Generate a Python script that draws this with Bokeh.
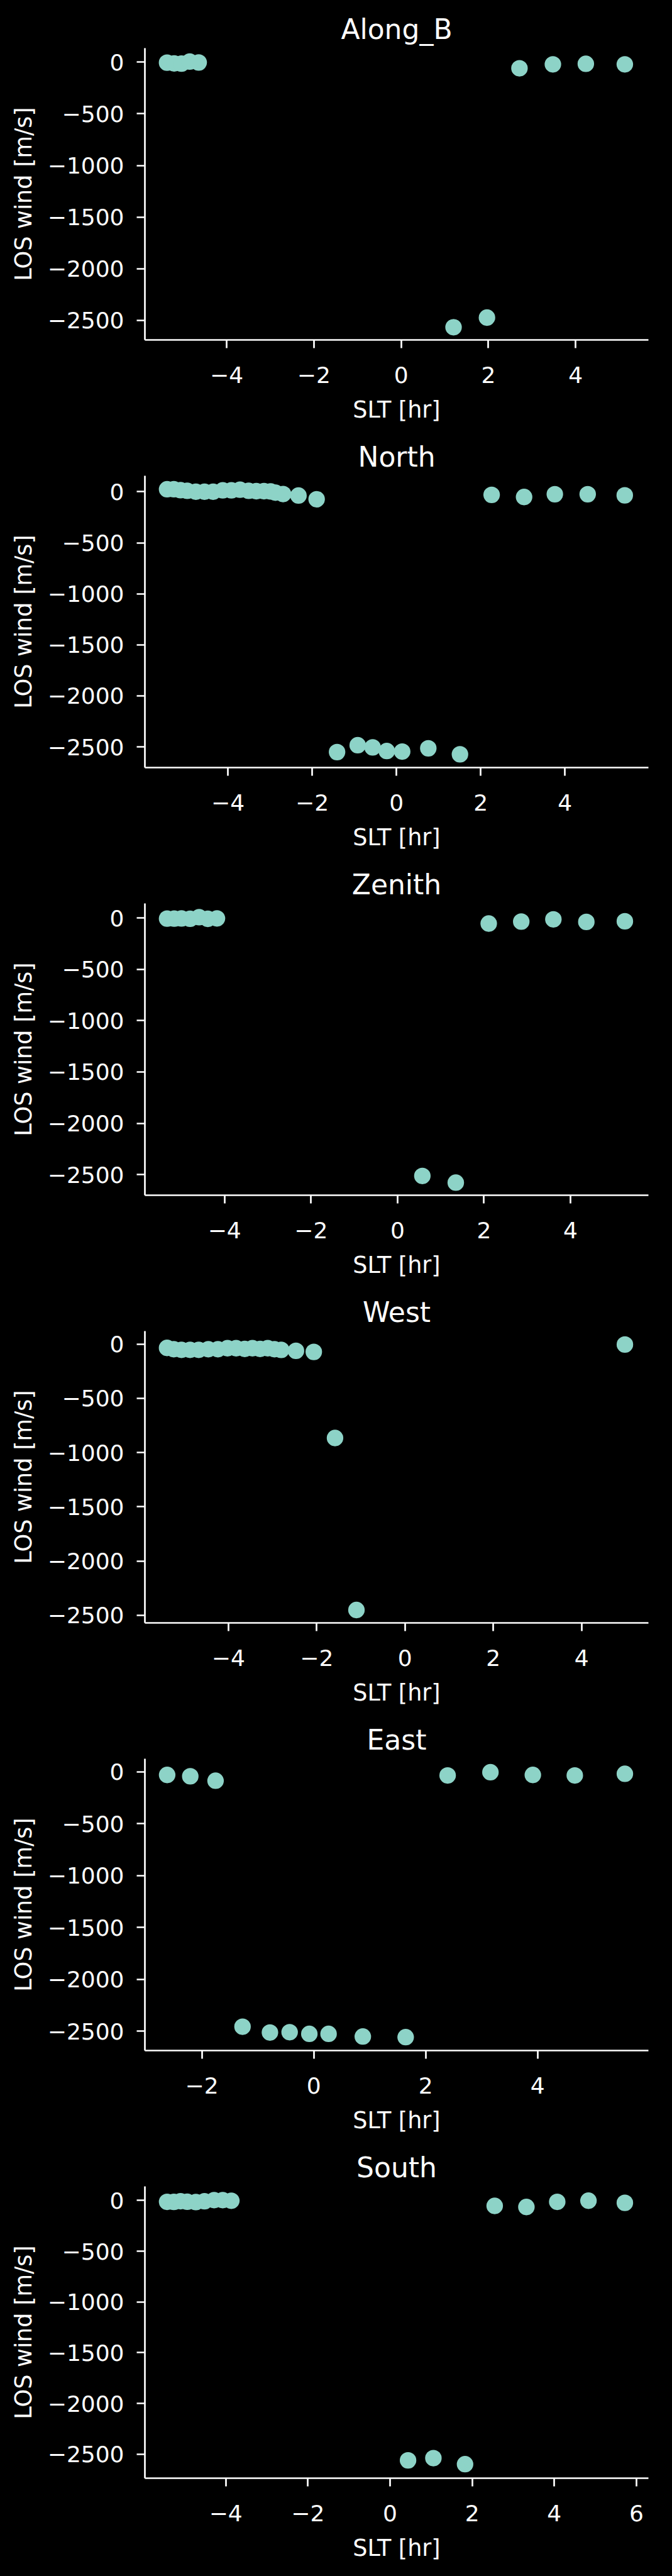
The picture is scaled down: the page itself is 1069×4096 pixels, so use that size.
from bokeh.plotting import figure
from bokeh.layouts import column
from bokeh.models import Range1d, FixedTicker
from bokeh.embed import file_html
from bokeh.resources import INLINE

# ---------------- data ----------------
titles = ["Along_B", "North", "Zenith", "West", "East", "South"]

along_b_slt = [-5.366, -5.203, -5.036, -4.847, -4.641, 1.201, 1.967, 2.712, 3.478, 4.233, 5.127]
along_b_wind = [-5, -12, -14, 6, -3, -2566, -2473, -59, -21, -16, -21]

north_slt = [-5.445, -5.285, -5.125, -4.967, -4.762, -4.557, -4.352, -4.124, -3.919, -3.714,
             -3.509, -3.327, -3.145, -2.987, -2.872, -2.691, -2.326, -1.895,
             -1.41, -0.92, -0.565, -0.23, 0.136, 0.756, 1.508,
             2.26, 3.03, 3.76, 4.54, 5.42]
north_wind = [25, 25, 16, 10, 1, 1, 1, 14, 14, 20,
              10, 6, 6, 3, -8, -22, -37, -73,
              -2551, -2484, -2505, -2541, -2546, -2514, -2573,
              -30, -51, -24, -24, -35]

zenith_slt = [-5.329, -5.164, -4.996, -4.797, -4.588, -4.388, -4.176, 0.574, 1.347,
              2.109, 2.861, 3.604, 4.366, 5.257]
zenith_wind = [-6, -6, -4, -8, 8, -8, -4, -2513, -2578, -54, -35, -13, -38, -32]

west_slt = [-5.389, -5.237, -5.063, -4.868, -4.672, -4.455, -4.237, -4.021, -3.825, -3.630,
            -3.455, -3.282, -3.109, -2.956, -2.804, -2.470, -2.066, -1.585, -1.10, 4.98]
west_wind = [-35, -47, -53, -53, -53, -47, -47, -38, -38, -44,
             -38, -44, -38, -47, -53, -62, -72, -866, -2452, -4]

east_slt = [-2.62, -2.207, -1.755, -1.273, -0.783, -0.431, -0.079, 0.265, 0.877, 1.643,
            2.393, 3.158, 3.916, 4.666, 5.561]
east_wind = [-29, -42, -85, -2455, -2511, -2508, -2524, -2524, -2550, -2556,
             -34, -3, -29, -34, -18]

south_slt = [-5.430, -5.266, -5.103, -4.940, -4.730, -4.520, -4.286, -4.076, -3.866,
             0.438, 1.055, 1.826, 2.548, 3.32, 4.071, 4.832, 5.718]
south_wind = [-14, -15, -8, -13, -16, -9, 3, 3, -3,
              -2560, -2538, -2598, -54, -65, -14, -3, -24]

slt_series = [along_b_slt, north_slt, zenith_slt, west_slt, east_slt, south_slt]
wind_series = [along_b_wind, north_wind, zenith_wind, west_wind, east_wind, south_wind]

# axis limits
x_lims = [(-5.874, 5.668), (-5.972, 5.982), (-5.842, 5.802),
          (-5.891, 5.513), (-3.018, 5.982), (-5.971, 6.292)]
y_lims = [(-2689, 136), (-2703, 157), (-2701, 142),
          (-2571, 120), (-2685, 127), (-2736, 138)]

x_ticks = [[-4, -2, 0, 2, 4], [-4, -2, 0, 2, 4], [-4, -2, 0, 2, 4],
           [-4, -2, 0, 2, 4], [-2, 0, 2, 4], [-4, -2, 0, 2, 4, 6]]
y_ticks = [0, -500, -1000, -1500, -2000, -2500]

x_label = "SLT [hr]"
y_label = "LOS wind [m/s]"

# ---------------- styling ----------------
FONT = "DejaVu Sans"
FG = "white"
BG = "black"
POINT = "#8dd3c7"


def minus(v):
    return str(v).replace("-", "\u2212")


figs = []
for i, name in enumerate(titles):
    p = figure(
        frame_width=801, frame_height=464,
        x_range=Range1d(*x_lims[i]), y_range=Range1d(*y_lims[i]),
        output_backend="svg", toolbar_location=None,
        background_fill_color=BG, border_fill_color=BG,
        min_border_left=230, min_border_right=22,
        min_border_top=76, min_border_bottom=140,
        title=name,
    )
    p.outline_line_color = None
    p.grid.visible = False

    p.title.align = "center"
    p.title.text_color = FG
    p.title.text_font = FONT
    p.title.text_font_size = "44px"
    p.title.text_font_style = "normal"
    p.title.standoff = 10

    p.scatter(slt_series[i], wind_series[i], size=26.3,
              fill_color=POINT, line_color=None)

    p.xaxis.ticker = FixedTicker(ticks=x_ticks[i])
    p.xaxis.major_label_overrides = {t: minus(t) for t in x_ticks[i]}
    p.yaxis.ticker = FixedTicker(ticks=y_ticks)
    p.yaxis.major_label_overrides = {t: minus(t) for t in y_ticks}
    p.xaxis.axis_label = x_label
    p.yaxis.axis_label = y_label

    for ax in (p.xaxis[0], p.yaxis[0]):
        ax.axis_line_color = FG
        ax.axis_line_width = 2.7
        ax.major_tick_line_color = FG
        ax.major_tick_line_width = 2.7
        ax.major_tick_in = 0
        ax.major_tick_out = 13
        ax.minor_tick_line_color = None
        ax.major_label_text_color = FG
        ax.major_label_text_font = FONT
        ax.major_label_text_font_size = "36px"
        ax.axis_label_text_color = FG
        ax.axis_label_text_font = FONT
        ax.axis_label_text_font_size = "36.6px"
        ax.axis_label_text_font_style = "normal"
    p.xaxis.major_label_standoff = 29
    p.yaxis.major_label_standoff = 20
    p.xaxis.axis_label_standoff = 18
    p.yaxis.axis_label_standoff = 14
    figs.append(p)

layout = column(*figs, spacing=0, background=BG)

template = """{% block postamble %}<style>html, body { background-color: #000000; }</style>{% endblock %}"""
open("out.html", "w").write(file_html(layout, INLINE, title="LOS wind", template=template))
